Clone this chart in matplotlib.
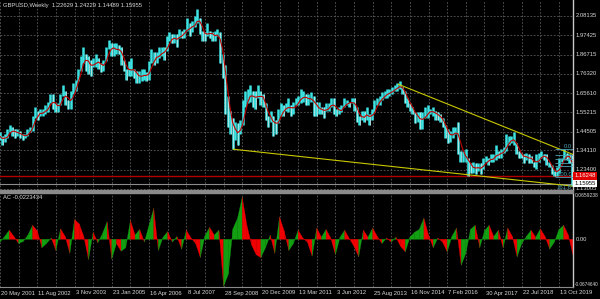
import numpy as np
import pandas as pd
import matplotlib
matplotlib.use('Agg')
import matplotlib.pyplot as plt
import matplotlib.transforms as mtransforms
from matplotlib.collections import PolyCollection

# GBPUSD monthly high / low (May 2001 .. Mar 2020)
bar_high = [1.44, 1.42, 1.43, 1.46, 1.48, 1.47, 1.46, 1.46,
            1.45, 1.43, 1.43, 1.46, 1.47, 1.53, 1.58, 1.56, 1.57, 1.57, 1.59, 1.61,
            1.65, 1.65, 1.60, 1.60, 1.65, 1.70, 1.67, 1.62, 1.67, 1.71, 1.73, 1.79,
            1.86, 1.91, 1.87, 1.86, 1.84, 1.85, 1.87, 1.85, 1.82, 1.84, 1.91, 1.95,
            1.93, 1.93, 1.93, 1.92, 1.91, 1.84, 1.79, 1.83, 1.85, 1.79, 1.78, 1.78,
            1.79, 1.79, 1.77, 1.83, 1.90, 1.88, 1.88, 1.91, 1.91, 1.91, 1.97, 1.99,
            1.98, 1.98, 1.98, 2.01, 2.00, 2.01, 2.07, 2.04, 2.05, 2.08, 2.12, 2.07,
            2.00, 1.99, 2.04, 2.00, 1.99, 2.00, 2.01, 1.99, 1.87, 1.81, 1.64, 1.56,
            1.52, 1.50, 1.49, 1.51, 1.62, 1.67, 1.68, 1.70, 1.67, 1.67, 1.70, 1.67,
            1.65, 1.60, 1.53, 1.56, 1.53, 1.51, 1.57, 1.60, 1.59, 1.60, 1.63, 1.59,
            1.61, 1.63, 1.64, 1.68, 1.67, 1.65, 1.65, 1.66, 1.64, 1.61, 1.61, 1.58,
            1.58, 1.60, 1.60, 1.63, 1.63, 1.57, 1.58, 1.59, 1.63, 1.62, 1.61, 1.63,
            1.63, 1.58, 1.53, 1.56, 1.56, 1.58, 1.54, 1.57, 1.62, 1.63, 1.64, 1.66,
            1.67, 1.68, 1.68, 1.69, 1.70, 1.71, 1.72, 1.69, 1.67, 1.63, 1.60, 1.58,
            1.55, 1.55, 1.55, 1.55, 1.58, 1.59, 1.57, 1.58, 1.56, 1.55, 1.54, 1.52,
            1.48, 1.46, 1.45, 1.47, 1.47, 1.50, 1.34, 1.34, 1.35, 1.30, 1.27, 1.28,
            1.27, 1.27, 1.27, 1.30, 1.31, 1.30, 1.32, 1.32, 1.37, 1.34, 1.35, 1.36,
            1.43, 1.42, 1.42, 1.44, 1.38, 1.34, 1.33, 1.32, 1.33, 1.32, 1.31, 1.28,
            1.32, 1.33, 1.34, 1.32, 1.32, 1.28, 1.26, 1.23, 1.25, 1.30, 1.30, 1.35,
            1.33, 1.32, 1.32]
bar_low = [1.40, 1.37, 1.39, 1.41, 1.44, 1.42, 1.41, 1.42,
           1.41, 1.40, 1.41, 1.42, 1.44, 1.45, 1.52, 1.51, 1.53, 1.53, 1.54, 1.55,
           1.60, 1.57, 1.55, 1.55, 1.59, 1.64, 1.59, 1.57, 1.57, 1.65, 1.67, 1.72,
           1.78, 1.82, 1.78, 1.76, 1.75, 1.80, 1.80, 1.79, 1.77, 1.78, 1.83, 1.90,
           1.86, 1.86, 1.87, 1.87, 1.81, 1.78, 1.73, 1.75, 1.75, 1.74, 1.71, 1.71,
           1.72, 1.73, 1.72, 1.73, 1.82, 1.81, 1.82, 1.85, 1.86, 1.84, 1.89, 1.94,
           1.93, 1.93, 1.91, 1.96, 1.96, 1.96, 2.00, 1.97, 1.99, 2.02, 2.04, 1.98,
           1.94, 1.94, 1.97, 1.96, 1.94, 1.94, 1.97, 1.82, 1.74, 1.54, 1.47, 1.43,
           1.35, 1.40, 1.37, 1.43, 1.48, 1.58, 1.60, 1.61, 1.58, 1.57, 1.63, 1.59,
           1.58, 1.51, 1.47, 1.50, 1.42, 1.43, 1.49, 1.53, 1.53, 1.56, 1.55, 1.53,
           1.54, 1.59, 1.59, 1.60, 1.61, 1.59, 1.59, 1.61, 1.53, 1.53, 1.54, 1.54,
           1.52, 1.56, 1.56, 1.58, 1.54, 1.53, 1.54, 1.55, 1.58, 1.59, 1.58, 1.60,
           1.56, 1.50, 1.48, 1.51, 1.50, 1.51, 1.48, 1.51, 1.55, 1.59, 1.59, 1.62,
           1.63, 1.63, 1.64, 1.65, 1.67, 1.67, 1.68, 1.65, 1.60, 1.58, 1.56, 1.54,
           1.49, 1.50, 1.46, 1.46, 1.52, 1.52, 1.54, 1.53, 1.51, 1.51, 1.50, 1.47,
           1.41, 1.38, 1.39, 1.41, 1.43, 1.32, 1.28, 1.28, 1.28, 1.20, 1.22, 1.22,
           1.21, 1.23, 1.21, 1.24, 1.28, 1.26, 1.28, 1.28, 1.29, 1.30, 1.30, 1.33,
           1.34, 1.37, 1.38, 1.37, 1.32, 1.30, 1.30, 1.27, 1.29, 1.27, 1.27, 1.25,
           1.24, 1.28, 1.30, 1.29, 1.26, 1.25, 1.21, 1.20, 1.20, 1.22, 1.28, 1.29,
           1.29, 1.27, 1.145]

# Accelerator oscillator, one reading every 8 weekly bars
ac_vals = [-0.004, 0.004, 0.013, 0.004, -0.006, -0.003, 0.006, 0.020, 0.012, -0.012,
           -0.006, 0.002, -0.016, 0.015, 0.004, -0.020, 0.028, 0.022, 0.004, -0.029,
           0.010, -0.005, 0.008, 0.025, -0.028, -0.006, -0.017, -0.012, 0.027, 0.006,
           0.014, -0.004, 0.020, 0.044, -0.016, 0.003, 0.011, -0.004, 0.004, -0.014,
           0.013, 0.002, -0.006, -0.026, 0.005, 0.017, 0.006, 0.013, -0.067, -0.050,
           0.015, 0.030, 0.060, 0.020, -0.008, -0.022, -0.026, -0.012, 0.006, -0.020,
           0.032, 0.012, -0.016, -0.006, 0.013, 0.002, -0.004, -0.024, 0.016, 0.003,
           0.014, 0.002, -0.022, 0.003, 0.013, 0.001, -0.010, -0.025, 0.013, 0.003,
           0.016, 0.004, -0.006, 0.002, -0.004, 0.003, -0.010, -0.018, 0.003, 0.010,
           0.014, 0.030, 0.006, -0.012, 0.002, -0.004, -0.018, 0.004, 0.016, -0.037,
           -0.020, 0.014, 0.020, -0.012, 0.012, 0.020, 0.004, 0.013, -0.012, 0.016,
           0.004, -0.025, -0.006, 0.004, 0.013, 0.003, 0.015, 0.004, -0.014, -0.004,
           0.014, 0.020, 0.006, -0.022]

price_labels = ['2.08135', '1.97425', '1.86715', '1.76320', '1.65610',
                '1.55215', '1.44505', '1.34110', '1.23400', '1.13005']
date_labels = ['20 May 2001', '11 Aug 2002', '3 Nov 2003', '23 Jan 2005',
               '16 Apr 2006', '8 Jul 2007', '28 Sep 2008', '20 Dec 2009',
               '13 Mar 2011', '3 Jun 2012', '25 Aug 2013', '16 Nov 2014',
               '7 Feb 2016', '30 Apr 2017', '22 Jul 2018', '13 Oct 2019']

# trend lines (bar index, price)
lower_x, lower_y = [400.7, 981.8], [1.348, 1.146]
upper_x, upper_y = [684.0, 983.5], [1.705, 1.320]
red_level = 1.201
bid = 1.15955
fib_high, fib_low = 1.3514, 1.1959
fib_levels = [0.0, 23.6, 38.2, 50.0, 61.8, 100.0]
fib_shown = [0.0, 100.0]

FONT = 'Liberation Sans'
FS = 4.2
TXT = '#d8d8d8'
GRID = '#5e5e5e'

fig = plt.figure(figsize=(6, 2.99), dpi=100, facecolor='black')
ax = fig.add_axes([0, 1 - 190 / 299, 573 / 600, 190 / 299])
ac = fig.add_axes([0, 1 - 286.7 / 299, 573 / 600, 93.7 / 299])

for a in (ax, ac):
    a.set_facecolor('black')
    a.set_xlim(0, 984)
    a.set_xticks([]), a.set_yticks([])
    for s in a.spines.values():
        s.set_visible(False)
    a.spines['right'].set_visible(True)
    a.spines['right'].set_color('#c8c8c8')
    a.spines['right'].set_linewidth(1)
    for b in range(0, 985, 32):
        a.axvline(b, color=GRID, lw=0.6, ls=(0, (2, 2)), zorder=0)
ac.spines['bottom'].set_visible(True)
ac.spines['bottom'].set_color('#8a8a8a')

ax.set_ylim(1.1241, 2.1676)
ac.set_ylim(-0.067464, 0.0659238)

for lab in price_labels:
    ax.axhline(float(lab), color=GRID, lw=0.6, ls=(0, (2, 2)), zorder=0)

# price bars
start = pd.Timestamp('2001-05-20')
months = pd.date_range('2001-05-01', periods=len(bar_high), freq='MS') + pd.Timedelta(days=14)
bx = ((months - start).days / 7).to_numpy()
hi = np.array(bar_high)
lo = np.array(bar_low)
mid = (hi + lo) / 2
down = np.r_[False, mid[1:] < mid[:-1]]
ax.vlines(bx, lo, hi, color='#3de3e3', lw=1.8, zorder=3)
ax.vlines(bx[down] + 0.8, lo[down], hi[down], color='#e8e8e8', lw=0.45, zorder=3)
ma = pd.Series(mid).rolling(3, min_periods=1).mean()
ax.plot(bx, ma, color='#c00000', lw=0.8, zorder=4)

# objects
ax.axhline(red_level, color='#b00000', lw=1.0, zorder=2)
ax.axhline(bid, color='#8c8c8c', lw=0.8, zorder=2)
ax.plot(lower_x, lower_y, color='#c8c800', lw=0.8, zorder=5)
ax.plot(upper_x, upper_y, color='#c8c800', lw=0.8, zorder=5)
fib_col = '#4fa3b5'
for lv in fib_levels:
    p = fib_high - lv / 100 * (fib_high - fib_low)
    ax.hlines(p, 953, 984, color=fib_col, lw=0.6, zorder=6)
    if lv in fib_shown:
        ax.text(982, p, '%.1f' % lv, color=fib_col, fontsize=FS, family=FONT,
                ha='right', va='bottom', zorder=7)
ax.text(982, 1.1225, '161.8', color=fib_col, fontsize=FS, family=FONT,
        ha='right', va='bottom', zorder=7)

# AC histogram
ac_x = np.arange(len(ac_vals)) * 8
v = np.array(ac_vals)
polys, cols = [], []
for i in range(len(v) - 1):
    polys.append([(ac_x[i], 0), (ac_x[i], v[i]), (ac_x[i + 1], v[i + 1]), (ac_x[i + 1], 0)])
    cols.append('#12a012' if v[i + 1] > v[i] else '#f00000')
ac.add_collection(PolyCollection(polys, facecolors=cols, edgecolors=cols, linewidths=0.2))

# texts
trans = mtransforms.blended_transform_factory(ax.transAxes, ax.transData)
for lab in price_labels:
    ax.text(1.004, float(lab), lab, transform=trans, color=TXT, fontsize=FS,
            family=FONT, va='center', ha='left', clip_on=False)
ax.text(1.002, red_level, '1.16248', transform=trans, color='white', fontsize=FS,
        family=FONT, va='center', ha='left', clip_on=False,
        bbox=dict(facecolor='#e00000', edgecolor='none', pad=0.8))
ax.text(1.002, bid, '1.15955', transform=trans, color='black', fontsize=FS,
        family=FONT, va='center', ha='left', clip_on=False,
        bbox=dict(facecolor='white', edgecolor='none', pad=0.8))
ax.text(3 / 573, 1 - 5 / 190, 'GBPUSD,Weekly  1.22629 1.24229 1.14489 1.15955',
        transform=ax.transAxes, color=TXT, fontsize=FS, family=FONT, va='center')

ac.text(3 / 573, 1 - 4.5 / 93.7, 'AC -0.0223434', transform=ac.transAxes,
        color=TXT, fontsize=FS, family=FONT, va='center')
trans2 = mtransforms.blended_transform_factory(ac.transAxes, ac.transData)
ac.text(1.003, 0.0659238, '0.0659238', transform=trans2, color=TXT, fontsize=3.6,
        family=FONT, va='top', clip_on=False)
ac.text(1.004, 0, '0.00', transform=trans2, color=TXT, fontsize=FS,
        family=FONT, va='center', clip_on=False)
ac.text(1.003, -0.067464, '-0.0674640', transform=trans2, color=TXT, fontsize=3.4,
        family=FONT, va='bottom', clip_on=False)

trans3 = mtransforms.blended_transform_factory(ac.transData, ac.transAxes)
for i, lab in enumerate(date_labels):
    ac.text(i * 64 + 2, -6.3 / 93.7, lab, transform=trans3, color=TXT, fontsize=FS,
            family=FONT, va='center', ha='left', clip_on=False)

# window separator
fig.patches.append(plt.Rectangle((0, 1 - 193 / 299), 573 / 600, 3 / 299,
                                 transform=fig.transFigure, color='#8a8a8a'))

fig.savefig('out.png', dpi=100, facecolor='black')
